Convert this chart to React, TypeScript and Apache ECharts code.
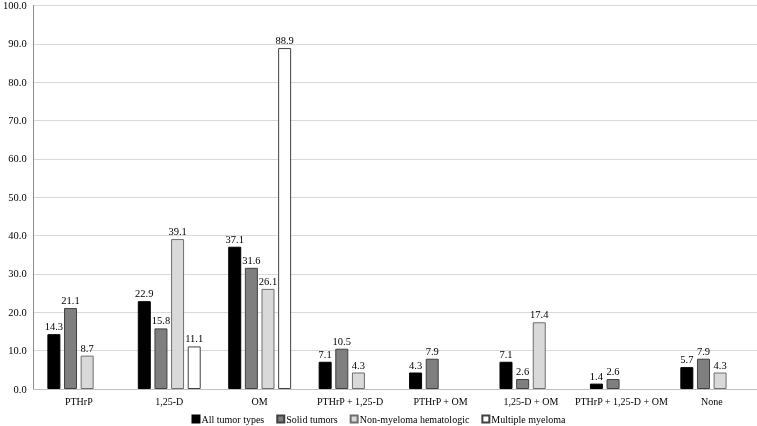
import React, { useEffect, useRef } from "react";
import * as echarts from "echarts";

const categories = ["PTHrP", "1,25-D", "OM", "PTHrP + 1,25-D", "PTHrP + OM", "1,25-D + OM", "PTHrP + 1,25-D + OM", "None"];
const allTumor = [14.3, 22.9, 37.1, 7.1, 4.3, 7.1, 1.4, 5.7];
const solidTumors = [21.1, 15.8, 31.6, 10.5, 7.9, 2.6, 2.6, 7.9];
const nonMyeloma = [8.7, 39.1, 26.1, 4.3, null, 17.4, null, 4.3];
const multipleMyeloma = [null, 11.1, 88.9, null, null, null, null, null];
const seriesNames = ["All tumor types", "Solid tumors", "Non-myeloma hematologic", "Multiple myeloma"];

const FONT = "Liberation Serif";

export default function App() {
  const ref = useRef<HTMLDivElement>(null);
  useEffect(() => {
    if (!ref.current) return;
    const chart = echarts.init(ref.current, null, { renderer: "svg" });
    const fills = ["#000000", "#7f7f7f", "#d9d9d9", "#ffffff"];
    const borders = ["#000000", "#404040", "#6e6e6e", "#404040"];
    const datas = [allTumor, solidTumors, nonMyeloma, multipleMyeloma];
    chart.setOption({
      animation: false,
      textStyle: { fontFamily: FONT },
      grid: { left: 31, right: 0, top: 5, bottom: 37, containLabel: false },
      legend: {
        bottom: 2,
        left: "center",
        padding: 0,
        itemWidth: 7,
        itemHeight: 7,
        itemGap: 12,
        icon: "rect",
        textStyle: { fontFamily: FONT, fontSize: 10, color: "#000", padding: [0, 0, 0, -3] },
        data: seriesNames,
      },
      xAxis: {
        type: "category",
        data: categories,
        axisLine: { lineStyle: { color: "#bfbfbf" } },
        axisTick: { show: false },
        axisLabel: { color: "#000", fontFamily: FONT, fontSize: 10, margin: 7, interval: 0 },
      },
      yAxis: {
        type: "value",
        min: 0,
        max: 100,
        interval: 10,
        axisLine: { show: true, lineStyle: { color: "#8c8c8c" } },
        axisTick: { show: false },
        splitLine: { lineStyle: { color: "#d9d9d9" } },
        axisLabel: { color: "#000", fontFamily: FONT, fontSize: 10.5, margin: 7, formatter: (v: number) => v.toFixed(1) },
      },
      series: datas.map((d, i) => ({
        name: seriesNames[i],
        type: "bar",
        data: d,
        barWidth: 13,
        barGap: "28%",
        itemStyle: { color: fills[i], borderColor: borders[i], borderWidth: 1 },
        label: {
          show: true,
          position: "top",
          distance: 2,
          color: "#000",
          fontFamily: FONT,
          fontSize: 10.5,
          formatter: (p: any) => (p.value == null ? "" : Number(p.value).toFixed(1)),
        },
      })),
    });
    return () => chart.dispose();
  }, []);
  return <div ref={ref} style={{ position: "fixed", left: 0, top: 0, width: 757, height: 426 }} />;
}
